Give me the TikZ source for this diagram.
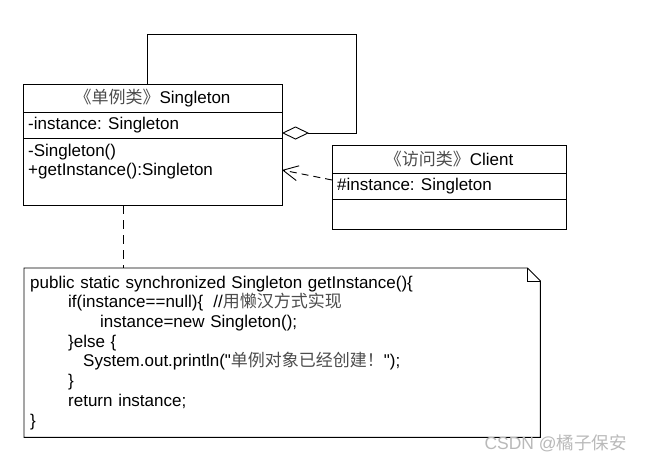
\documentclass[tikz,border=0pt]{standalone}
\usepackage{fontspec}
\setmainfont{Liberation Sans}
\newfontfamily\cjk{Noto Sans CJK SC}
\usetikzlibrary{arrows.meta}
\definecolor{zhgray}{gray}{0.3}
\newcommand{\zh}[1]{{\cjk\color{zhgray}#1}}

\begin{document}
\begin{tikzpicture}[x=1pt,y=-1pt,
  every node/.style={font=\fontsize{17}{19.7}\selectfont},
  part/.style={draw,line width=0.9pt,inner sep=0pt,outer sep=0pt,anchor=north west},
  member/.style={anchor=west,inner sep=0pt},
  aggregation/.style={line width=0.9pt,{Diamond[open,length=27pt,width=13pt]}-},
  depend/.style={line width=0.9pt,dash pattern=on 7pt off 5pt,-{Straight Barb[length=15pt,width=15pt]}},
  notelink/.style={line width=0.9pt,dash pattern=on 9pt off 6pt},
  notebox/.style={line width=0.9pt}]

\useasboundingbox (0,0) rectangle (652,464);

\node[part,minimum width=259pt,minimum height=28pt] (sgname) at (23,84) {\zh{《单例类》}Singleton};
\node[part,minimum width=259pt,minimum height=26pt] (sgattr) at (sgname.south west) {};
\node[part,minimum width=259pt,minimum height=67pt] (sgops) at (sgattr.south west) {};

\node[member] (sgfield) at ([xshift=5pt]sgattr.west) {-instance: Singleton};
\node[member] (sgctor) at ([xshift=5pt,yshift=-14pt]sgops.north west) {-Singleton()};
\node[member] (sgget) at ([xshift=5pt,yshift=-33pt]sgops.north west) {+getInstance():Singleton};

\node[part,minimum width=234pt,minimum height=28pt] (clname) at (332,145) {\zh{《访问类》}Client};
\node[part,minimum width=234pt,minimum height=26pt] (clattr) at (clname.south west) {};
\node[part,minimum width=234pt,minimum height=30pt] (clops) at (clattr.south west) {};

\node[member] (clfield) at ([xshift=5pt]clattr.west) {\#instance: Singleton};

\node[anchor=north west,minimum height=169pt,text width=504pt,inner xsep=6pt,inner ysep=0pt,align=left] (note) at (24,268) {public static synchronized Singleton getInstance()\{\\
\hspace*{38pt}if(instance==null)\{\hspace{10pt}//\zh{用懒汉方式实现}\\
\hspace*{70pt}instance=new Singleton();\\
\hspace*{38pt}\}else \{\\
\hspace*{53pt}System.out.println(\textquotedbl\zh{单例对象已经创建！}\textquotedbl);\\
\hspace*{38pt}\}\\
\hspace*{38pt}return instance;\\
\}};

\draw[notebox] (note.north west) -- ([xshift=-13pt]note.north east) -- ([yshift=-13pt]note.north east) -- (note.south east) -- (note.south west) -- cycle;
\draw[notebox] ([xshift=-13pt]note.north east) |- ([yshift=-13pt]note.north east);

\draw[aggregation] ([yshift=-8pt]sgattr.east) -- ++(74,0) |- ([xshift=124pt,yshift=50pt]sgname.north west) -- ([xshift=124pt]sgname.north west);
\draw[depend] ([yshift=6pt]clattr.west) -- ([yshift=1.5pt]sgops.east);

\coordinate (linktop) at ([xshift=100pt]sgops.south west);
\draw[notelink] (linktop) -- (linktop |- note.north);

\node[anchor=west,text=gray!55,font=\fontsize{17.5}{20}\selectfont] (mark) at (481,443) {CSDN @{\cjk 橘子保安}};
\end{tikzpicture}
\end{document}
